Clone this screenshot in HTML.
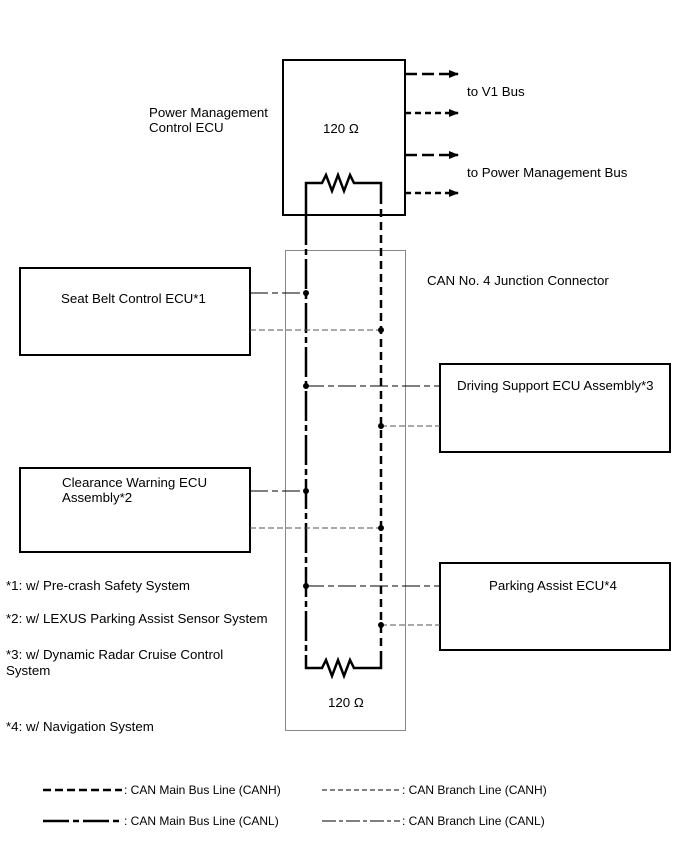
<!DOCTYPE html>
<html><head><style>
body{margin:0;background:#fff}
svg{display:block;font-family:"Liberation Sans",sans-serif;font-size:13.3px}
</style></head><body>
<svg width="691" height="855" viewBox="0 0 691 855" xmlns="http://www.w3.org/2000/svg">
<defs><marker id="a" markerWidth="10" markerHeight="8" refX="9" refY="4" orient="auto" markerUnits="userSpaceOnUse"><path d="M0,0 L10,4 L0,8z" fill="#000"/></marker></defs>
<g fill="none" stroke="#000">
<rect x="283" y="60" width="122" height="155" stroke-width="2"/>
<rect x="285.5" y="250.5" width="120" height="480" stroke="#888" stroke-width="1"/>
<rect x="20" y="268" width="230" height="87" stroke-width="2"/>
<rect x="440" y="364" width="230" height="88" stroke-width="2"/>
<rect x="20" y="468" width="230" height="84" stroke-width="2"/>
<rect x="440" y="563" width="230" height="87" stroke-width="2"/>
<path d="M306,215 V183 H322 l4,-8 6,16 6,-16 6,16 6,-16 4,8 H381 V196" stroke-width="2.5"/>
<path d="M306,655 V668 H322 l4,-8 6,16 6,-16 6,16 6,-16 4,8 H381 V655" stroke-width="2.5"/>
<path d="M306,215 V655" stroke-width="2.5" stroke-dasharray="30 4 6 4"/>
<path d="M381,196 V655" stroke-width="2.5" stroke-dasharray="8 5"/>
<g stroke-width="2.5" marker-end="url(#a)">
<path d="M405,74 H458" stroke-dasharray="12 5"/>
<path d="M405,113 H458" stroke-dasharray="6 4"/>
<path d="M405,155 H458" stroke-dasharray="12 5"/>
<path d="M405,193 H458" stroke-dasharray="6 4"/>
</g>
<g stroke-width="1">
<path d="M250,293 H306" stroke-dasharray="18 4 6 4"/>
<path d="M250,330 H381" stroke="#555" stroke-dasharray="6 3"/>
<path d="M306,386 H440" stroke-dasharray="18 4 6 4"/>
<path d="M381,426 H440" stroke="#555" stroke-dasharray="6 3"/>
<path d="M250,491 H306" stroke-dasharray="18 4 6 4"/>
<path d="M250,528 H381" stroke="#555" stroke-dasharray="6 3"/>
<path d="M306,586 H440" stroke-dasharray="18 4 6 4"/>
<path d="M381,625 H440" stroke="#555" stroke-dasharray="6 3"/>
</g>
<path d="M43,790 H122" stroke-width="2.5" stroke-dasharray="8 4"/>
<path d="M43,821 H122" stroke-width="2.5" stroke-dasharray="26 4 6 4"/>
<path d="M322,790 H400" stroke-width="1" stroke-dasharray="5 3"/>
<path d="M322,821 H400" stroke-width="1" stroke-dasharray="14 3 4 3"/>
</g>
<g fill="#000">
<circle cx="306" cy="293" r="3"/><circle cx="381" cy="330" r="3"/>
<circle cx="306" cy="386" r="3"/><circle cx="381" cy="426" r="3"/>
<circle cx="306" cy="491" r="3"/><circle cx="381" cy="528" r="3"/>
<circle cx="306" cy="586" r="3"/><circle cx="381" cy="625" r="3"/>
<text x="149" y="117">Power Management</text>
<text x="149" y="132">Control ECU</text>
<text x="323" y="133">120 Ω</text>
<text x="467" y="96">to V1 Bus</text>
<text x="467" y="177">to Power Management Bus</text>
<text x="427" y="285">CAN No. 4 Junction Connector</text>
<text x="61" y="303">Seat Belt Control ECU*1</text>
<text x="457" y="390">Driving Support ECU Assembly*3</text>
<text x="62" y="487">Clearance Warning ECU</text>
<text x="62" y="502">Assembly*2</text>
<text x="489" y="590">Parking Assist ECU*4</text>
<text x="328" y="707">120 Ω</text>
<text x="6" y="590">*1: w/ Pre-crash Safety System</text>
<text x="6" y="623">*2: w/ LEXUS Parking Assist Sensor System</text>
<text x="6" y="659">*3: w/ Dynamic Radar Cruise Control</text>
<text x="6" y="675">System</text>
<text x="6" y="731">*4: w/ Navigation System</text>
<g font-size="12">
<text x="124" y="794">: CAN Main Bus Line (CANH)</text>
<text x="124" y="825">: CAN Main Bus Line (CANL)</text>
<text x="402" y="794">: CAN Branch Line (CANH)</text>
<text x="402" y="825">: CAN Branch Line (CANL)</text>
</g>
</g>
</svg>
</body></html>
